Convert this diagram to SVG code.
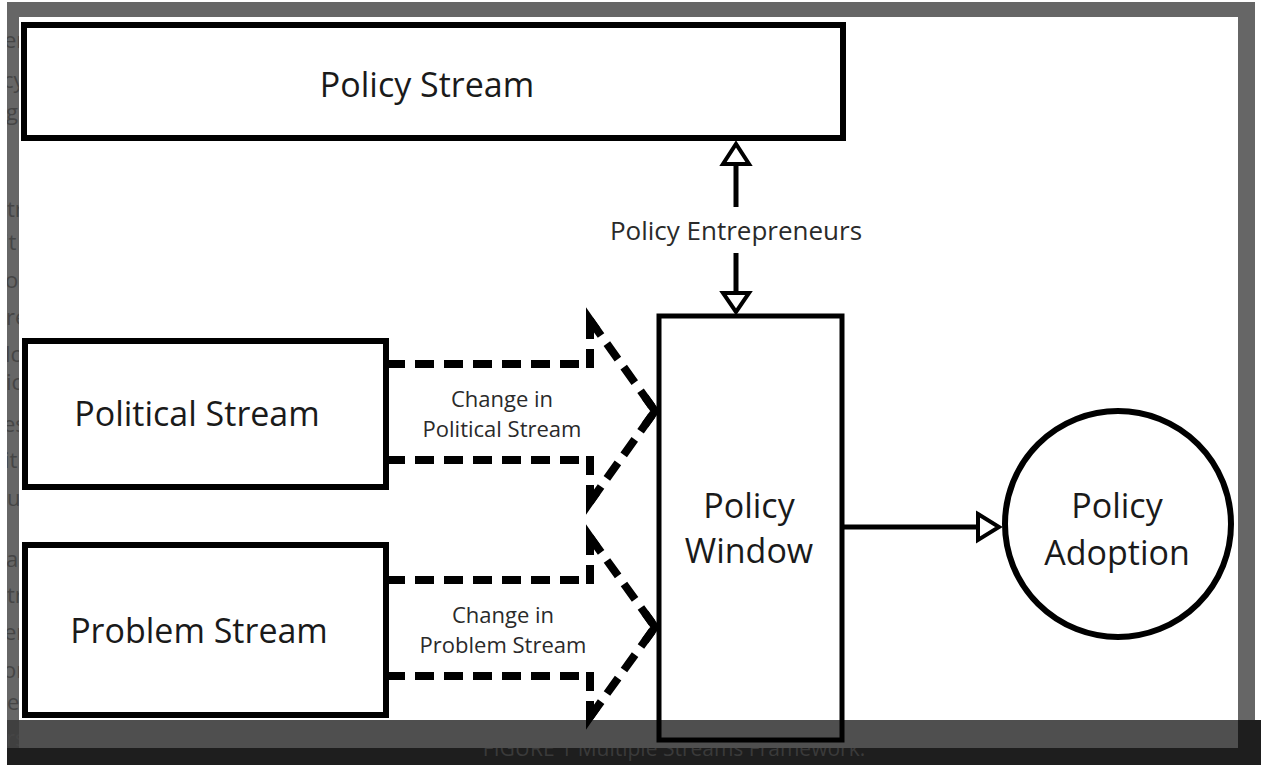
<svg xmlns="http://www.w3.org/2000/svg" width="1261" height="765" viewBox="0 0 1261 765">
  <defs>
    <style>
      .box { fill: #ffffff; stroke: #000000; stroke-width: 6; }
      .big { font-family: "Open Sans", "Liberation Sans", sans-serif; font-size: 34px; fill: #1a1a1a; text-anchor: middle; }
      .lbl { font-family: "Open Sans", "Liberation Sans", sans-serif; font-size: 22px; fill: #2a2a2a; text-anchor: middle; }
      .lbl2 { font-family: "Open Sans", "Liberation Sans", sans-serif; font-size: 26px; fill: #2a2a2a; text-anchor: middle; }
      .dash { fill: none; stroke: #000000; stroke-width: 8; stroke-dasharray: 19 10; }
      .tip { fill: none; stroke: #000000; stroke-width: 8; stroke-linejoin: miter; stroke-miterlimit: 10; }
      .solid { fill: none; stroke: #000000; stroke-width: 5; }
      .head { fill: #ffffff; stroke: #000000; stroke-width: 4; stroke-linejoin: miter; }
      .frag { font-family: "Open Sans", "Liberation Sans", sans-serif; font-size: 22px; fill: #454545; }
      .cap { font-family: "Open Sans", "Liberation Sans", sans-serif; font-size: 21px; fill: #3a3a3a; text-anchor: middle; }
    </style>
    <clipPath id="stripClip">
      <rect x="7" y="17" width="12" height="731"/>
    </clipPath>
    <clipPath id="capClip">
      <rect x="7" y="748" width="1254" height="17"/>
    </clipPath>
  </defs>

  <!-- page background / frame -->
  <rect x="0" y="0" width="1261" height="765" fill="#ffffff"/>
  <rect x="7" y="2" width="1248" height="746" fill="#666666"/>
  <rect x="7" y="720" width="12" height="28" fill="#404040"/>
  <g clip-path="url(#stripClip)">
    <text class="frag" x="4" y="48">er</text>
    <text class="frag" x="3" y="88">cy</text>
    <text class="frag" x="6" y="120">g</text>
    <text class="frag" x="7" y="217">tr</text>
    <text class="frag" x="3" y="250">it</text>
    <text class="frag" x="5" y="288">oc</text>
    <text class="frag" x="6" y="325">re</text>
    <text class="frag" x="5" y="362">lc</text>
    <text class="frag" x="6" y="390">ic</text>
    <text class="frag" x="3" y="432">es</text>
    <text class="frag" x="4" y="468">it</text>
    <text class="frag" x="7" y="506">u</text>
    <text class="frag" x="6" y="567">a</text>
    <text class="frag" x="7" y="603">tr</text>
    <text class="frag" x="4" y="640">er</text>
    <text class="frag" x="3" y="678">or</text>
    <text class="frag" x="7" y="710">e</text>
    <text class="frag" x="6" y="746" fill="#555555">rs</text>
  </g>
  <rect x="19" y="17" width="1219" height="731" fill="#ffffff"/>

  <!-- nodes -->
  <g id="policy-stream">
    <rect class="box" x="24" y="25" width="819" height="113"/>
    <text class="big" x="427" y="97">Policy Stream</text>
  </g>
  <g id="political-stream">
    <rect class="box" x="25" y="341" width="361" height="146"/>
    <text class="big" x="197" y="426">Political Stream</text>
  </g>
  <g id="problem-stream">
    <rect class="box" x="25" y="545" width="361" height="170"/>
    <text class="big" x="199" y="643">Problem Stream</text>
  </g>
  <g id="policy-window">
    <rect class="box" x="659" y="316" width="183" height="424" style="stroke-width:5"/>
    <text class="big" x="749" y="518">Policy</text>
    <text class="big" x="749" y="563">Window</text>
  </g>
  <g id="policy-adoption">
    <circle class="box" cx="1118" cy="524" r="113"/>
    <text class="big" x="1117" y="518">Policy</text>
    <text class="big" x="1117" y="565">Adoption</text>
  </g>

  <!-- connectors -->
  <g id="connectors">
    <!-- Political stream dashed arrow -->
    <path class="dash" d="M386,364 H586"/>
    <path class="dash" d="M590,368 V320"/>
    <path class="dash" d="M590,320 L655,411"/>
    <path class="dash" d="M590,502 L655,411"/>
    <path class="dash" d="M590,456 V502"/>
    <path class="dash" d="M386,460 H586"/>
    <path class="tip" d="M590,336 L590,320 L597,330"/>
    <path class="tip" d="M590,486 L590,502 L597,492"/>
    <path class="tip" d="M645,397 L655,411 L645,425"/>

    <!-- Problem stream dashed arrow -->
    <path class="dash" d="M386,580 H586"/>
    <path class="dash" d="M590,584 V537"/>
    <path class="dash" d="M590,537 L655,627"/>
    <path class="dash" d="M590,717 L655,627"/>
    <path class="dash" d="M590,672 V717"/>
    <path class="dash" d="M386,676 H586"/>
    <path class="tip" d="M590,553 L590,537 L597,547"/>
    <path class="tip" d="M590,701 L590,717 L597,707"/>
    <path class="tip" d="M645,613 L655,627 L645,641"/>

    <!-- Policy entrepreneurs double arrow -->
    <path class="solid" d="M736,207 V164"/>
    <path class="head" d="M723,164 L749,164 L736,144 Z"/>
    <path class="solid" d="M736,253 V293"/>
    <path class="head" d="M723,293 L749,293 L736,312 Z"/>

    <!-- Window to adoption -->
    <path class="solid" d="M844,527 H978"/>
    <path class="head" d="M978,514 L999,527 L978,540 Z"/>

    <text class="lbl2" x="736" y="240">Policy Entrepreneurs</text>
    <text class="lbl" x="502" y="407">Change in</text>
    <text class="lbl" x="502" y="437">Political Stream</text>
    <text class="lbl" x="503" y="623">Change in</text>
    <text class="lbl" x="503" y="653">Problem Stream</text>
  </g>

  <!-- bottom caption bar -->
  <rect x="19" y="720" width="1219" height="28" fill="#000000" fill-opacity="0.69"/>
  <rect x="7" y="748" width="1254" height="17" fill="#1e1e1e"/>
  <rect x="1238" y="720" width="23" height="45" fill="#1e1e1e"/>
  <text class="cap" x="674" y="756" clip-path="url(#capClip)">FIGURE 1 Multiple Streams Framework.</text>
</svg>
